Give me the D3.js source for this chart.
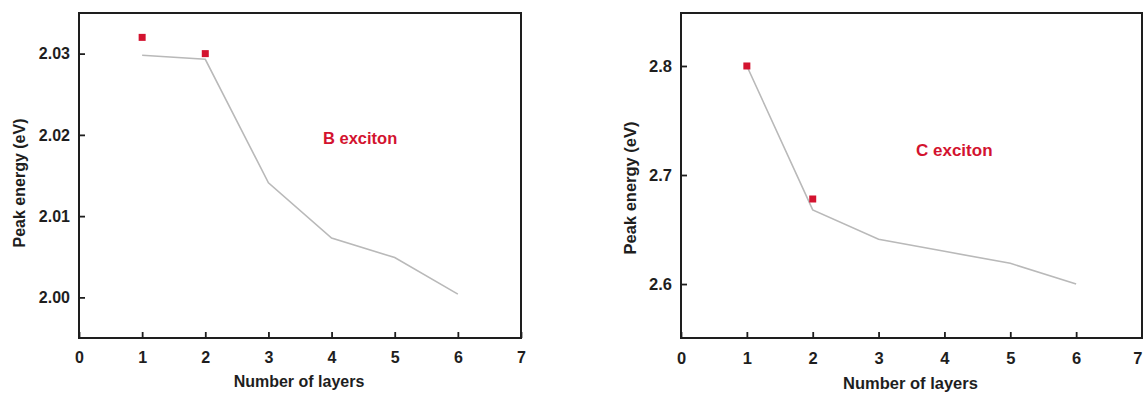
<!DOCTYPE html>
<html>
<head>
<meta charset="utf-8">
<script src="https://cdn.jsdelivr.net/npm/d3@7"></script>
<style>
  html, body { margin: 0; padding: 0; background: #fff; }
  svg { display: block; font-family: "Liberation Sans", Arial, sans-serif; }
</style>
</head>
<body>
<svg id="chart" width="1143" height="394"></svg>
<script>
// Number of layers on the x axis
const layers = [1, 2, 3, 4, 5, 6];
const measuredLayers = [1, 2];

// B exciton peak energies (eV)
const bCalculated = [2.0298, 2.0293, 2.0141, 2.0073, 2.0049, 2.0004];
const bMeasured = [2.032, 2.030];

// C exciton peak energies (eV)
const cCalculated = [2.800, 2.668, 2.641, 2.630, 2.619, 2.600];
const cMeasured = [2.800, 2.678];

const xTicks = [0, 1, 2, 3, 4, 5, 6, 7];
const bTicks = [2.00, 2.01, 2.02, 2.03];
const cTicks = [2.6, 2.7, 2.8];

const width = 1143;
const svg = d3.select("#chart");
const ink = "#1e1e1e";
const red = "#d3132f";

function drawPanel(p) {
  const x = d3.scaleLinear().domain([0, 7]).range([p.left, p.right]);
  const y = d3.scaleLinear().domain(p.yDomain).range([p.bottom, p.top]);
  const g = svg.append("g");

  // plot frame
  g.append("rect")
    .attr("x", p.left).attr("y", p.top)
    .attr("width", p.right - p.left).attr("height", p.bottom - p.top)
    .attr("fill", "none").attr("stroke", ink).attr("stroke-width", 2);

  // x axis, ticks pointing inward
  const xa = g.append("g")
    .attr("transform", `translate(0,${p.bottom})`)
    .call(d3.axisBottom(x).tickValues(xTicks).tickFormat(d3.format("d"))
      .tickSizeInner(-6).tickSizeOuter(0).tickPadding(14));
  xa.select(".domain").remove();
  xa.selectAll("line").attr("stroke", ink).attr("stroke-width", 1.8);
  xa.selectAll("text")
    .attr("fill", ink).style("font-size", p.font + "px").style("font-weight", "bold")
    .each(function (d) {
      // keep a label at the page edge inside the page
      const t = d3.select(this);
      const w = this.getComputedTextLength();
      const cx = x(d);
      if (cx + w / 2 > width) t.attr("text-anchor", "end").attr("x", width - cx - 1);
    });

  // y axis, ticks pointing inward
  const ya = g.append("g")
    .attr("transform", `translate(${p.left},0)`)
    .call(d3.axisLeft(y).tickValues(p.yTicks).tickFormat(d3.format(p.fmt))
      .tickSizeInner(-6).tickSizeOuter(0).tickPadding(9));
  ya.select(".domain").remove();
  ya.selectAll("line").attr("stroke", ink).attr("stroke-width", 1.8);
  ya.selectAll("text")
    .attr("fill", ink).style("font-size", p.font + "px").style("font-weight", "bold");

  // axis titles
  g.append("text")
    .attr("x", (p.left + p.right) / 2 - p.xTitleShift).attr("y", p.xTitleY)
    .attr("text-anchor", "middle").attr("fill", ink)
    .style("font-size", p.font + "px").style("font-weight", "bold")
    .text("Number of layers");
  g.append("text")
    .attr("transform", `translate(${p.yTitleX},${p.yTitleY}) rotate(-90)`)
    .attr("text-anchor", "middle").attr("fill", ink)
    .style("font-size", p.font + "px").style("font-weight", "bold")
    .text("Peak energy (eV)");

  // calculated trend
  const line = d3.line().x((d, i) => x(layers[i])).y(d => y(d));
  g.append("path")
    .datum(p.calc)
    .attr("d", line)
    .attr("fill", "none").attr("stroke", "#b9b9b9").attr("stroke-width", 1.6);

  // measured peaks
  const s = 7;
  g.selectAll("rect.pt")
    .data(p.meas)
    .join("rect")
    .attr("class", "pt")
    .attr("x", (d, i) => x(measuredLayers[i]) - s / 2)
    .attr("y", d => y(d) - s / 2)
    .attr("width", s).attr("height", s)
    .attr("fill", red);

  // panel label
  g.append("text")
    .attr("x", p.labelX).attr("y", p.labelY)
    .attr("fill", red)
    .style("font-size", p.labelFont + "px").style("font-weight", "bold")
    .text(p.label);
}

drawPanel({
  left: 79, right: 521, top: 13, bottom: 338,
  yDomain: [1.995, 2.035], yTicks: bTicks, fmt: ".2f",
  calc: bCalculated, meas: bMeasured,
  font: 16, labelFont: 16.5,
  xTitleY: 387, xTitleShift: 1, yTitleX: 25, yTitleY: 183,
  label: "B exciton", labelX: 323, labelY: 144
});

drawPanel({
  left: 681, right: 1142, top: 13, bottom: 338,
  yDomain: [2.5505, 2.8486], yTicks: cTicks, fmt: ".1f",
  calc: cCalculated, meas: cMeasured,
  font: 16.5, labelFont: 17,
  xTitleY: 389, xTitleShift: 1, yTitleX: 636, yTitleY: 188,
  label: "C exciton", labelX: 916, labelY: 156
});
</script>
</body>
</html>
